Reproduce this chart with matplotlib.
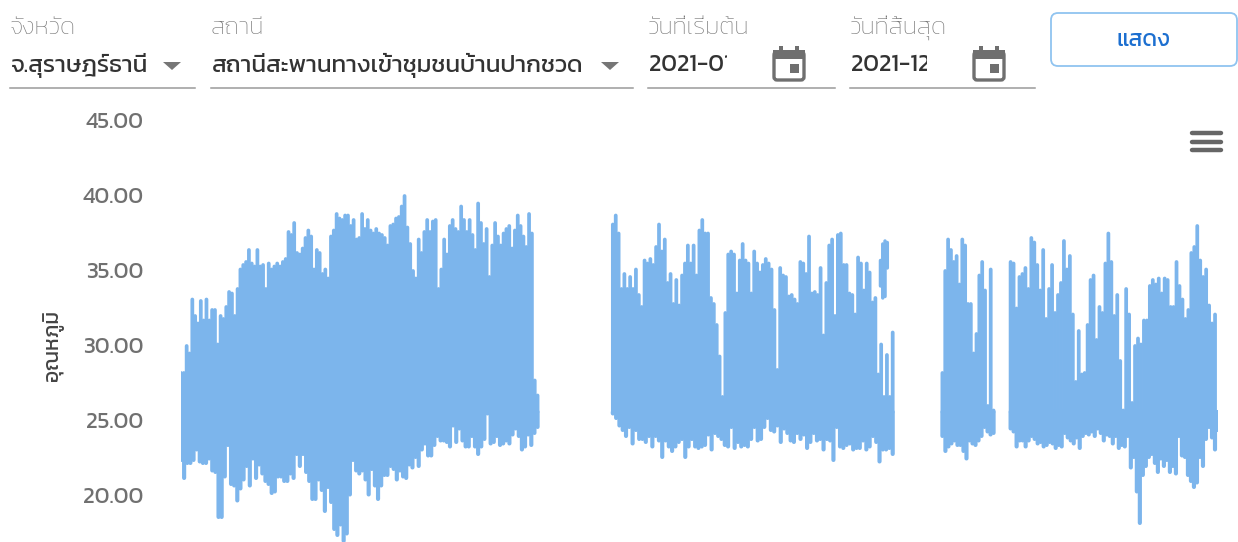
import matplotlib
matplotlib.use('Agg')
import matplotlib.pyplot as plt
from matplotlib.patches import FancyBboxPatch, Polygon, Rectangle
import numpy as np

# daily high / low, one pair of lists per run of readings
seg1_high = [28.2, 28.2, 30.0, 29.5, 33.1, 32.0, 31.5, 33.0, 31.7, 33.1, 31.7, 32.4, 32.4, 30.1, 32.0, 31.8, 32.6, 33.6,
             33.5, 32.0, 33.8, 35.1, 35.4, 35.6, 36.4, 35.5, 35.3, 36.4, 35.3, 35.4, 33.8, 35.5, 35.1, 35.3, 35.5, 35.3,
             35.6, 35.8, 37.6, 37.4, 38.2, 36.2, 36.1, 36.5, 37.2, 37.7, 37.3, 35.1, 36.4, 36.2, 34.8, 35.1, 34.5, 37.3,
             37.7, 38.8, 38.5, 38.4, 38.7, 38.7, 38.0, 38.4, 37.1, 37.2, 38.8, 37.8, 38.4, 37.7, 37.5, 37.8, 37.5, 37.4,
             37.2, 36.7, 38.0, 38.1, 38.5, 38.6, 39.3, 40.0, 37.9, 36.8, 35.0, 34.5, 37.1, 36.2, 37.6, 38.4, 37.6, 38.3,
             38.4, 33.8, 35.1, 37.1, 36.1, 38.0, 38.4, 37.8, 37.6, 39.3, 38.4, 37.6, 38.4, 37.4, 36.4, 39.5, 38.2, 36.8,
             37.8, 34.6, 36.7, 38.2, 37.3, 36.7, 37.5, 37.8, 38.0, 36.5, 37.7, 38.7, 38.0, 37.3, 36.6, 38.8, 37.5, 27.7, 26.7]
seg1_low = [22.4, 21.2, 22.2, 22.2, 22.4, 23.1, 22.3, 22.2, 22.2, 22.5, 21.7, 21.6, 18.6, 18.6, 21.3, 23.4, 20.8, 20.7,
            19.7, 20.5, 21.1, 22.0, 20.7, 22.5, 21.2, 22.1, 21.5, 21.0, 20.8, 20.2, 20.3, 21.3, 21.3, 21.0, 21.0, 21.5,
            21.2, 22.8, 22.0, 22.8, 21.6, 21.0, 19.8, 19.8, 21.1, 20.4, 19.0, 20.6, 19.6, 17.8, 17.4, 18.1, 17.0, 17.5,
            20.1, 22.4, 21.7, 21.5, 21.7, 21.1, 20.1, 21.8, 20.7, 19.8, 20.7, 21.4, 21.4, 22.0, 21.8, 21.1, 21.7, 21.3,
            21.2, 22.1, 21.9, 22.6, 22.0, 23.1, 23.5, 22.7, 22.7, 23.4, 24.0, 23.7, 23.7, 23.6, 23.3, 24.7, 23.6, 24.5,
            23.7, 23.3, 23.3, 24.0, 23.3, 22.8, 23.3, 23.8, 25.5, 23.5, 23.6, 24.0, 23.4, 23.5, 23.7, 23.5, 24.1, 24.5,
            24.0, 23.1, 23.3, 24.1, 23.4, 24.2, 24.6]

seg2_high = [38.1, 38.7, 37.5, 33.8, 34.8, 33.8, 34.6, 33.8, 35.1, 33.4, 32.6, 35.7, 35.5, 35.8, 35.4, 36.6, 38.1, 36.3,
             37.1, 34.2, 34.8, 32.8, 34.4, 32.7, 34.7, 35.5, 36.7, 35.5, 36.7, 34.7, 37.7, 38.4, 37.5, 37.5, 33.2, 32.8,
             31.4, 29.3, 26.6, 32.2, 36.1, 36.3, 36.1, 33.5, 35.7, 36.8, 35.7, 35.5, 33.5, 36.3, 35.5, 34.9, 35.4, 35.8,
             35.5, 35.1, 32.4, 28.4, 35.2, 34.7, 34.6, 33.3, 33.4, 33.1, 32.8, 35.6, 35.5, 34.8, 37.3, 33.5, 33.6, 33.4,
             35.2, 30.7, 34.2, 36.7, 37.1, 32.0, 37.4, 37.5, 35.4, 35.4, 33.5, 33.4, 32.1, 35.9, 35.5, 33.7, 35.5, 34.9,
             32.9, 33.2, 28.1, 30.1, 26.6, 29.4, 26.6, 30.9]
seg2_low = [25.5, 25.2, 24.7, 24.4, 24.0, 24.6, 23.5, 24.4, 23.8, 23.8, 23.6, 24.0, 23.3, 24.0, 23.7, 22.6, 23.7, 23.3,
            23.0, 23.3, 23.6, 23.8, 22.6, 23.3, 23.8, 23.3, 23.2, 23.3, 23.4, 24.1, 23.1, 24.2, 24.0, 23.8, 23.4, 23.3,
            24.6, 23.2, 23.6, 23.3, 23.4, 23.3, 23.8, 24.6, 23.7, 23.8, 24.6, 25.2, 24.4, 24.3, 24.7, 23.6, 24.5, 24.2,
            23.7, 23.6, 24.2, 23.8, 24.1, 23.2, 23.6, 24.2, 23.7, 23.8, 23.1, 23.8, 23.7, 22.4, 24.6, 23.3, 23.2, 23.4,
            23.5, 23.1, 23.2, 23.2, 23.7, 23.1, 23.3, 24.0, 23.6, 22.3, 23.1, 23.1, 23.2, 22.8]

# the short detached swing near the end of the second run
swing_days = [246.2, 247.0, 247.8, 248.6]
swing_high = [35.7, 36.8, 37.0, 36.9]
swing_low = [34.0, 33.2, 33.3, 35.2]

seg3_high = [28.2, 35.0, 37.1, 36.4, 35.6, 36.0, 34.1, 37.1, 36.7, 32.8, 32.8, 29.5, 30.8, 34.7, 35.6, 33.7, 26.0, 35.1, 25.7]
seg3_low = [24.0, 23.0, 23.3, 23.5, 23.7, 23.4, 23.4, 23.0, 22.5, 23.7, 23.5, 23.4, 23.7, 24.0, 24.6, 24.3, 24.1, 24.2]

seg4_high = [35.6, 35.5, 32.5, 34.6, 34.8, 35.2, 33.8, 37.2, 36.9, 35.4, 33.7, 36.4, 31.8, 33.8, 35.4, 32.2, 33.4, 34.2,
             37.0, 35.1, 36.0, 32.1, 27.6, 31.0, 28.1, 28.2, 31.4, 34.4, 34.7, 30.4, 32.6, 32.2, 35.5, 37.5, 35.6, 32.0,
             33.4, 29.0, 25.7, 33.8, 32.1, 26.2, 30.0, 30.5, 30.1, 31.7, 31.7, 34.0, 34.4, 34.1, 34.5, 33.5, 34.5, 34.4,
             32.6, 32.6, 35.6, 34.0, 33.1, 31.8, 32.4, 36.2, 36.6, 38.0, 35.7, 34.6, 35.1, 32.7, 31.5, 32.1, 24.4]
seg4_low = [24.5, 24.3, 23.3, 23.7, 23.7, 23.3, 23.7, 24.0, 23.8, 23.5, 23.6, 23.3, 23.4, 23.6, 23.5, 23.2, 23.4, 23.3,
            24.2, 23.9, 23.7, 23.5, 23.9, 23.2, 24.0, 24.2, 24.1, 24.3, 24.0, 24.5, 24.2, 23.7, 24.1, 24.0, 23.5, 24.0,
            23.2, 23.4, 23.3, 24.0, 21.9, 22.6, 20.3, 18.2, 21.4, 22.0, 22.6, 22.8, 22.2, 21.6, 22.5, 22.0, 22.4, 21.6,
            22.0, 21.5, 24.0, 22.7, 22.6, 21.4, 21.0, 20.6, 20.9, 22.6, 22.0, 23.8, 24.6, 23.9, 23.1, 24.4]

# first and last day of each run of readings
seg_days = [(0.0, 125.5), (152.0, 250.5), (268.0, 286.0), (292.0, 365.0)]
segments = [(seg1_high, seg1_low), (seg2_high, seg2_low), (seg3_high, seg3_low), (seg4_high, seg4_low)]
body_temp = 25.6

y_ticks = [20, 25, 30, 35, 40, 45]
y_label = 'อุณหภูมิ'
province_label = 'จังหวัด'
province = 'จ.สุราษฎร์ธานี'
station_label = 'สถานี'
station = 'สถานีสะพานทางเข้าชุมชนบ้านปากชวด'
start_label = 'วันที่เริ่มต้น'
start_date = '2021-01-01'
end_label = 'วันที่สิ้นสุด'
end_date = '2021-12-31'
button_text = 'แสดง'

plt.rcParams['font.family'] = ['Kanit', 'Noto Sans Thai', 'DejaVu Sans']

W, H = 1238, 542
fig = plt.figure(figsize=(W / 100, H / 100), dpi=100)

line_color = '#7cb5ec'
ax = fig.add_axes([181 / W, 0, 1037 / W, 421 / H])
for (start, end), (high, low) in zip(seg_days, segments):
    x_high = np.linspace(start, end, len(high))
    x_low = np.linspace(start, end, len(low))
    ax.vlines(x_high, body_temp, high, color=line_color, lw=2.7, capstyle='round', snap=False)
    ax.vlines(x_low, low, body_temp, color=line_color, lw=3.0, capstyle='round', snap=False)
ax.vlines(swing_days, swing_low, swing_high, color=line_color, lw=2.5, capstyle='round', snap=False)
ax.set_xlim(0, 365)
ax.set_ylim(16.93, 45)
ax.set_xticks([])
ax.set_yticks(y_ticks)
ax.set_yticklabels(['%.2f' % t for t in y_ticks])
ax.tick_params(axis='y', length=0, pad=27, labelsize=16.5, labelcolor='#707070')
for s in ax.spines.values():
    s.set_visible(False)
ax.set_facecolor('none')

# form controls above the chart, in pixel coordinates
ui = fig.add_axes([0, 0, 1, 1])
ui.set_xlim(0, W)
ui.set_ylim(H, 0)
ui.axis('off')
ui.set_facecolor('none')


def field(x0, x1, label, value, clip_x=None, size=17.5):
    ui.text(x0, 28, label, fontsize=17.5, fontweight='light', color='#777777', va='center')
    t = ui.text(x0 + 1, 65, value, fontsize=size, color='#333333', va='center')
    if clip_x is not None:
        t.set_clip_path(Rectangle((x0, 40), clip_x - x0, 40, transform=ui.transData))
        t.set_clip_on(True)
    ui.plot([x0, x1], [88, 88], color='#9a9a9a', lw=1.1)


def triangle(x0):
    ui.add_patch(Polygon([(x0, 62), (x0 + 18, 62), (x0 + 9, 70)], color='#767676', lw=0))


def calendar(x0):
    ui.add_patch(FancyBboxPatch((x0 + 2, 52), 30, 28, boxstyle='round,pad=0,rounding_size=3', fc='none', ec='#6f6f6f', lw=2.4))
    ui.add_patch(Rectangle((x0 + 1, 50), 32, 9, color='#6f6f6f', lw=0))
    ui.add_patch(Rectangle((x0 + 7, 46), 4, 6, color='#6f6f6f', lw=0))
    ui.add_patch(Rectangle((x0 + 23, 46), 4, 6, color='#6f6f6f', lw=0))
    ui.add_patch(Rectangle((x0 + 18, 64), 9, 9, color='#6f6f6f', lw=0))


field(10, 195, province_label, province)
triangle(163)
field(211, 633, station_label, station)
triangle(601)
field(648, 835, start_label, start_date, clip_x=727)
calendar(772)
field(850, 1035, end_label, end_date, clip_x=927)
calendar(972)

ui.add_patch(FancyBboxPatch((1051, 13), 186, 53, boxstyle='round,pad=0,rounding_size=7', fc='white', ec='#90c4f0', lw=1.3))
ui.text(1144, 40, button_text, fontsize=16.5, color='#1c6fd0', ha='center', va='center')

# chart menu icon
for yy in [133, 141.5, 150]:
    ui.plot([1192, 1221], [yy, yy], color='#666666', lw=3.2, solid_capstyle='round')

ui.text(53, 345, y_label, fontsize=15, color='#444444', rotation=90, ha='center', va='center')

fig.savefig('out.png', dpi=100)
